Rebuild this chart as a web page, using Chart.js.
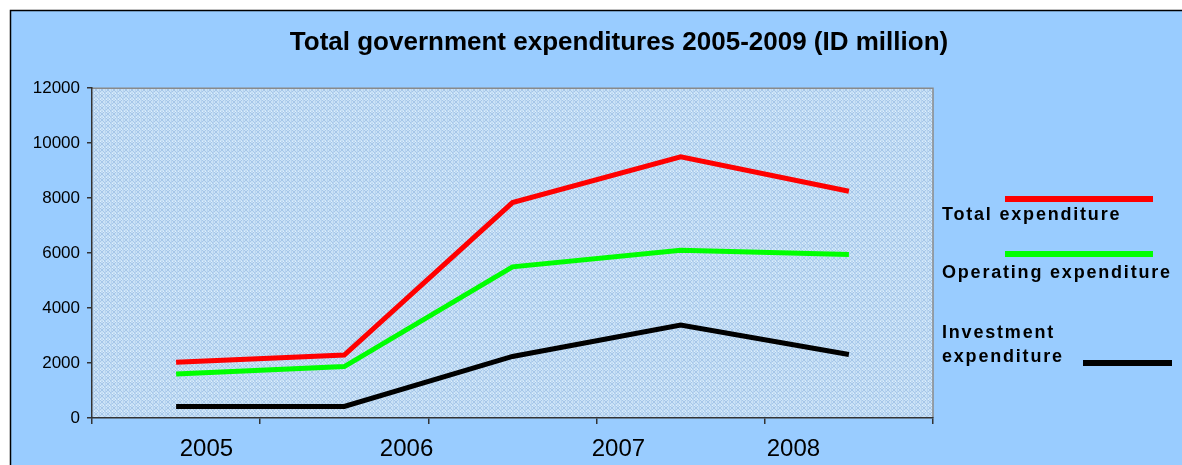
<!DOCTYPE html>
<html>
<head>
<meta charset="utf-8">
<script src="https://cdn.jsdelivr.net/npm/chart.js@4.4.1/dist/chart.umd.min.js"></script>
<style>
  html, body { margin: 0; padding: 0; background: #ffffff; }
  #wrap { width: 1182px; height: 465px; }
</style>
</head>
<body>
<div id="wrap"><canvas id="c" width="1182" height="465"></canvas></div>
<script>
// ---- data ----
const years = ['2005', '2006', '2007', '2008', '2009'];
const totalExpenditure = [2030, 2290, 7840, 9500, 8250];
const operatingExpenditure = [1600, 1870, 5500, 6100, 5950];
const investmentExpenditure = [420, 420, 2240, 3380, 2310];
const xTickLabels = ['2005', '2006', '2007', '2008'];
const seriesNames = ['Total expenditure', 'Operating expenditure', 'Investment expenditure'];

// ---- layout / style (not data) ----
const FONT = "'Liberation Sans', Arial, Helvetica, sans-serif";
const layoutCfg = {
  titleLeft: 56,
  xLabelSlots: [0.18, 1.37, 2.63, 3.67],
  legend: [
    { line: [1005, 199, 1153, 199], text: [[942, 220]] },
    { line: [1005, 254, 1153, 254], text: [[942, 278]] },
    { line: [1083, 363, 1172, 363], text: [[942, 338], [942, 362]], split: true }
  ]
};

function makePattern(ctx) {
  const p = document.createElement('canvas');
  p.width = 6; p.height = 6;
  const g = p.getContext('2d');
  g.fillStyle = '#c9e1f6';
  g.fillRect(0, 0, 6, 6);
  g.fillStyle = '#a6c6e8';
  for (let i = 0; i < 6; i++) {
    g.fillRect(i, i, 1, 1);
    g.fillRect(5 - i, i, 1, 1);
  }
  g.fillStyle = '#b6d3f0';
  g.fillRect(0, 3, 6, 1);
  g.fillRect(3, 0, 1, 6);
  g.fillStyle = '#dff0fc';
  g.fillRect(1, 3, 1, 1);
  g.fillRect(4, 3, 1, 1);
  return ctx.createPattern(p, 'repeat');
}

const backgroundPlugin = {
  id: 'bg',
  afterLayout(chart) {
    if (chart.titleBlock) {
      chart.titleBlock.left = layoutCfg.titleLeft;
    }
  },
  beforeDraw(chart) {
    const ctx = chart.ctx, W = chart.width, H = chart.height, a = chart.chartArea;
    ctx.save();
    ctx.fillStyle = '#ffffff';
    ctx.fillRect(0, 0, W, H);
    ctx.fillStyle = '#99ccff';
    ctx.fillRect(10, 10, W - 10, H - 10);
    ctx.strokeStyle = '#000000';
    ctx.lineWidth = 1.5;
    ctx.beginPath();
    ctx.moveTo(10.5, H);
    ctx.lineTo(10.5, 10.5);
    ctx.lineTo(W, 10.5);
    ctx.stroke();
    ctx.fillStyle = makePattern(ctx);
    ctx.fillRect(a.left, a.top, a.right - a.left, a.bottom - a.top);
    ctx.strokeStyle = '#8a8a8a';
    ctx.lineWidth = 1.5;
    ctx.beginPath();
    ctx.moveTo(a.left, a.top);
    ctx.lineTo(a.right, a.top);
    ctx.lineTo(a.right, a.bottom);
    ctx.stroke();
    ctx.restore();
  }
};

const sideLegendPlugin = {
  id: 'sideLegend',
  afterDraw(chart) {
    const ctx = chart.ctx;
    ctx.save();
    chart.data.datasets.forEach((ds, i) => {
      const spec = layoutCfg.legend[i];
      ctx.strokeStyle = ds.borderColor;
      ctx.lineWidth = 6;
      ctx.lineCap = 'butt';
      ctx.beginPath();
      ctx.moveTo(spec.line[0], spec.line[1]);
      ctx.lineTo(spec.line[2], spec.line[3]);
      ctx.stroke();
      ctx.fillStyle = '#000000';
      ctx.font = 'bold 18px ' + FONT;
      ctx.textBaseline = 'alphabetic';
      ctx.textAlign = 'left';
      if ('letterSpacing' in ctx) ctx.letterSpacing = '1.8px';
      const parts = spec.split ? ds.label.split(' ') : [ds.label];
      parts.forEach((t, k) => {
        ctx.fillText(t, spec.text[k][0], spec.text[k][1]);
      });
    });
    ctx.restore();
  }
};

new Chart(document.getElementById('c'), {
  type: 'line',
  data: {
    labels: years,
    datasets: [
      { label: seriesNames[0], data: totalExpenditure, borderColor: '#ff0000', backgroundColor: '#ff0000' },
      { label: seriesNames[1], data: operatingExpenditure, borderColor: '#00ff00', backgroundColor: '#00ff00' },
      { label: seriesNames[2], data: investmentExpenditure, borderColor: '#000000', backgroundColor: '#000000' }
    ]
  },
  options: {
    responsive: false,
    animation: false,
    devicePixelRatio: 1,
    datasets: { line: { borderWidth: 5, pointRadius: 0, tension: 0, fill: false } },
    layout: { padding: { left: 0, right: 0, top: 0, bottom: 0 } },
    plugins: {
      legend: { display: false },
      tooltip: { enabled: false },
      title: {
        display: true,
        text: 'Total government expenditures 2005-2009 (ID million)',
        color: '#000000',
        font: { family: FONT, size: 26, weight: 'bold' },
        padding: { top: 27, bottom: 30 }
      }
    },
    scales: {
      x: {
        type: 'category',
        position: 'bottom',
        weight: 0,
        offset: true,
        grid: { offset: true, drawOnChartArea: false, drawTicks: true, tickLength: 6, color: '#333333', lineWidth: 1.5 },
        border: { color: '#333333', width: 1.5 },
        ticks: { display: false },
        afterFit(s) { s.height = 6; }
      },
      x2: {
        type: 'linear',
        position: 'bottom',
        weight: 1,
        min: -0.5,
        max: 4.5,
        grid: { display: false, drawTicks: false, tickLength: 0 },
        border: { display: false },
        afterBuildTicks(s) { s.ticks = layoutCfg.xLabelSlots.map(v => ({ value: v })); },
        ticks: {
          autoSkip: false, maxRotation: 0, padding: 11,
          color: '#000000',
          font: { family: FONT, size: 24 },
          callback: (v, i) => xTickLabels[i]
        },
        afterFit(s) { s.height = 41; }
      },
      y: {
        min: 0,
        max: 12000,
        ticks: { stepSize: 2000, color: '#000000', padding: 7, font: { family: FONT, size: 17 },
                 callback: v => String(v) },
        grid: { drawOnChartArea: false, drawTicks: true, tickLength: 5, color: '#333333', lineWidth: 1.5 },
        border: { color: '#333333', width: 1.5 },
        afterFit(s) { s.width = 92; }
      },
      legendSpace: {
        type: 'linear',
        position: 'right',
        display: true,
        grid: { display: false, drawTicks: false },
        border: { display: false },
        ticks: { display: false },
        afterFit(s) { s.width = 249; }
      }
    }
  },
  plugins: [backgroundPlugin, sideLegendPlugin]
});
</script>
</body>
</html>
